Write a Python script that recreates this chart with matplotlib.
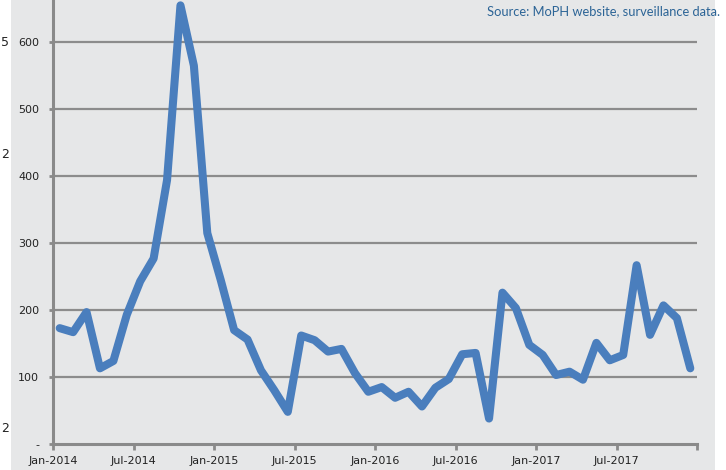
import numpy as np
import matplotlib
matplotlib.use("Agg")
import matplotlib.pyplot as plt
from matplotlib.patches import Rectangle

# monthly cases, Jan-2014 .. Dec-2017
cases = [173, 167, 197, 113, 124, 193, 243, 277, 394, 655, 565, 315,
         245, 170, 156, 110, 80, 48, 162, 155, 138, 142, 106, 78,
         85, 69, 78, 56, 84, 97, 134, 136, 38, 226, 203, 148,
         133, 103, 108, 96, 151, 125, 133, 267, 163, 207, 188, 113]
tick_labels = ["Jan-2014", "Jul-2014", "Jan-2015", "Jul-2015", "Jan-2016",
               "Jul-2016", "Jan-2017", "Jul-2017", ""]
y_ticks = [0, 100, 200, 300, 400, 500, 600]
y_labels = ["-", "100", "200", "300", "400", "500", "600"]

W, H = 726, 470
narrow = ["Liberation Sans Narrow", "DejaVu Sans"]

fig = plt.figure(figsize=(W / 100, H / 100), dpi=100)
fig.patch.set_facecolor("white")
# grey panel behind the chart
fig.patches.append(Rectangle((11 / W, 0), (715 - 11) / W, 1, transform=fig.transFigure,
                             facecolor="#e6e7e8", edgecolor="none", zorder=-10))

ax = fig.add_axes([53 / W, 26 / H, (697 - 53) / W, 444 / H])
ax.set_facecolor("none")

x = np.arange(len(cases)) + 0.5
ax.plot(x, cases, color="#4a7ebd", lw=5.8, solid_joinstyle="round",
        solid_capstyle="round", zorder=3, clip_on=False)

ax.set_xlim(0, 48)
ax.set_ylim(0, 663)
ax.set_xticks(np.arange(0, 49, 6))
ax.set_xticklabels(tick_labels, fontsize=8, family=narrow, color="#222222")
ax.set_yticks(y_ticks)
ax.set_yticklabels(y_labels, fontsize=8, family=narrow, color="#222222")
ax.tick_params(axis="x", length=4, width=2, color="#8a8a8a", pad=5)
ax.tick_params(axis="y", length=3, width=2, color="#8a8a8a", pad=7)

for v in y_ticks[1:]:
    ax.axhline(v, color="#8c8c8c", lw=1.6, zorder=1)

for s in ["top", "right"]:
    ax.spines[s].set_visible(False)
for s in ["left", "bottom"]:
    ax.spines[s].set_color("#8a8a8a")
    ax.spines[s].set_linewidth(2.2)

fig.text(720 / W, 1 - 15 / H, "Source: MoPH website, surveillance data.",
         ha="right", va="baseline", fontsize=9.3, family=["Lato", "DejaVu Sans"],
         color="#2c6496")

# labels of the neighbouring chart, at the left edge
for yy, s in [(42, "5"), (155, "2"), (428, "2")]:
    fig.text(1 / W, 1 - yy / H, s, ha="left", va="center", fontsize=9,
             family=narrow, color="#222222")

fig.savefig("out.png", dpi=100)
